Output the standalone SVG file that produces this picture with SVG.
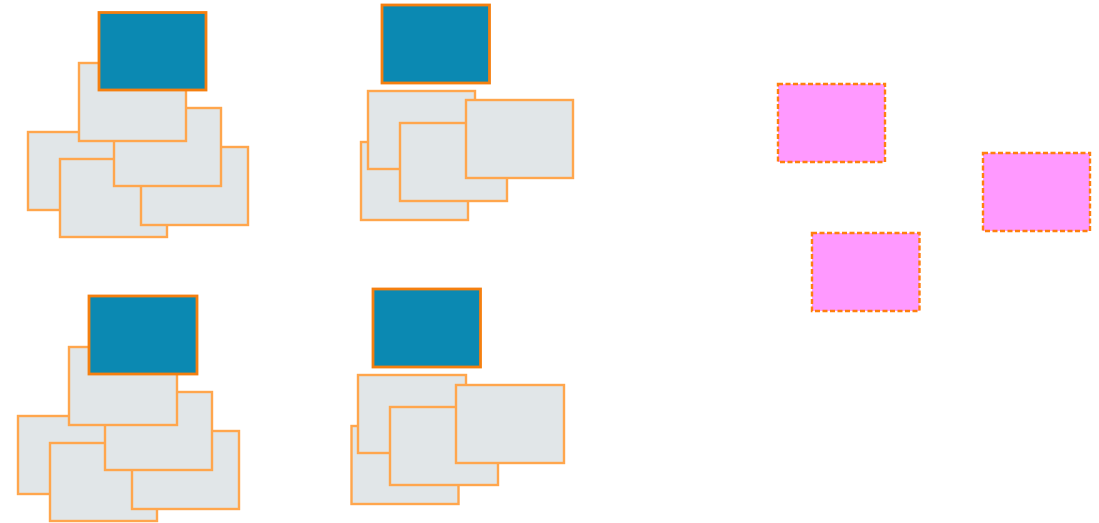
<svg xmlns="http://www.w3.org/2000/svg" width="1099" height="523" viewBox="0 0 1099 523">
<style>
rect{stroke-width:2.4}
.g{fill:#e1e6e8;stroke:#ffa64d}
.b{fill:#0b89b2;stroke:#f57f0f;stroke-width:2.8}
.p{fill:#ff99ff;stroke:#ff7f0e;stroke-dasharray:5 2.5}
</style>
<rect width="1099" height="523" fill="#ffffff" stroke="none"/>
<g id="cluster1">
<rect class="g" x="28" y="132" width="107" height="78"/>
<rect class="g" x="60" y="159" width="107" height="78"/>
<rect class="g" x="141" y="147" width="107" height="78"/>
<rect class="g" x="114" y="108" width="107" height="78"/>
<rect class="g" x="79" y="63" width="107" height="78"/>
<rect class="b" x="99" y="12.5" width="107" height="77.5"/>
</g>
<g id="cluster2">
<rect class="g" x="361" y="142" width="107" height="78"/>
<rect class="g" x="368" y="91" width="107" height="78"/>
<rect class="g" x="400" y="123" width="107" height="78"/>
<rect class="g" x="466" y="100" width="107" height="78"/>
<rect class="b" x="382" y="5" width="107.5" height="78"/>
</g>
<g id="cluster3">
<rect class="g" x="18" y="416" width="107" height="78"/>
<rect class="g" x="50" y="443" width="107" height="78"/>
<rect class="g" x="132" y="431" width="107" height="78"/>
<rect class="g" x="105" y="392" width="107" height="78"/>
<rect class="g" x="69" y="347" width="108" height="78"/>
<rect class="b" x="89" y="296" width="108" height="78"/>
</g>
<g id="cluster4">
<rect class="g" x="351.5" y="426" width="107" height="78"/>
<rect class="g" x="358" y="375" width="108" height="78"/>
<rect class="g" x="390" y="407" width="108" height="78"/>
<rect class="g" x="456" y="385" width="108" height="78"/>
<rect class="b" x="373" y="289" width="107.5" height="78"/>
</g>
<g id="pink1"><rect class="p" x="778" y="84" width="107" height="78"/></g>
<g id="pink2"><rect class="p" x="983" y="153" width="107" height="78"/></g>
<g id="pink3"><rect class="p" x="812" y="233" width="107.5" height="78"/></g>
<g id="connectors"></g>
</svg>
